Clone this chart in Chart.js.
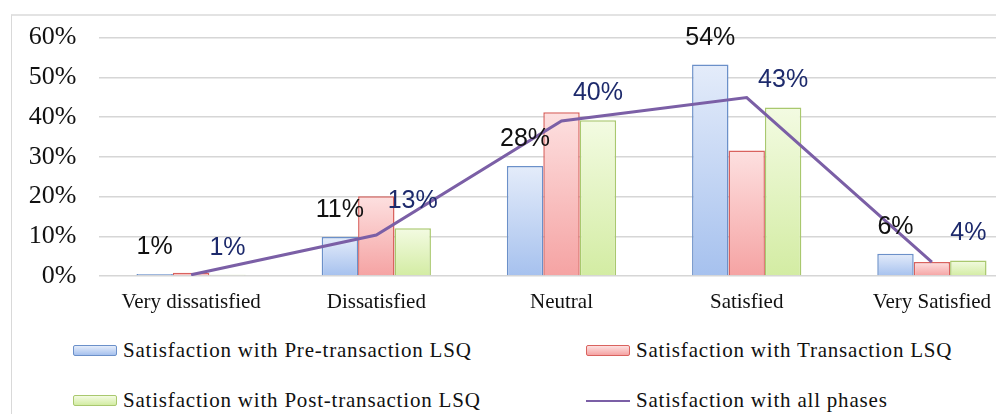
<!DOCTYPE html>
<html>
<head>
<meta charset="utf-8">
<script src="https://cdn.jsdelivr.net/npm/chart.js@4/dist/chart.umd.min.js"></script>
<style>
    html, body { margin: 0; padding: 0; background: #fff; overflow: hidden; width: 996px; height: 414px; }
    #wrap { position: relative; width: 1030px; height: 414px; }
    #frame { position: absolute; left: 11px; top: 14px; width: 1100px; height: 500px;
             border-left: 1px solid #d9d9d9; border-top: 2px solid #e3e3e3; }
    #box { position: absolute; left: 0; top: 0; width: 1030px; height: 316px; }
    .lg { position: absolute; font-family: "Liberation Serif", "Times New Roman", serif;
          font-size: 21px; letter-spacing: 0.8px; color: #111; white-space: nowrap; line-height: 24px; }
    .sw { position: absolute; width: 42px; height: 9px; border-radius: 2px; }
    .ln { position: absolute; width: 44px; height: 2px; }
</style>
</head>
<body>
<div id="wrap">
    <div id="frame"></div>
    <div id="box"><canvas id="satChart"></canvas></div>
    <div id="legend"></div>
</div>
<script>
const categories = ["Very dissatisfied", "Dissatisfied", "Neutral", "Satisfied", "Very Satisfied"];
const seriesNames = [
    "Satisfaction with Pre-transaction LSQ",
    "Satisfaction with Transaction LSQ",
    "Satisfaction with Post-transaction LSQ",
    "Satisfaction with all phases"
];
const preValues = [0.5, 9.8, 27.7, 53.2, 5.6];
const transValues = [0.8, 20.1, 41.2, 31.6, 3.5];
const postValues = [0.3, 12.0, 39.2, 42.4, 3.9];
const allValues = [0.3, 10.3, 39.0, 44.9, 3.5];
const preLabels = ["1%", "11%", "28%", "54%", "6%"];
const postLabels = ["1%", "13%", "40%", "43%", "4%"];
const yTicks = [0, 10, 20, 30, 40, 50, 60];

// bar fill: light at the top, stronger at the base
function barFill(light, dark) {
    return (ctx) => {
        const chart = ctx.chart;
        const area = chart.chartArea;
        if (!area || ctx.raw === undefined) return dark;
        const top = chart.scales.y.getPixelForValue(ctx.raw);
        const g = chart.ctx.createLinearGradient(0, top, 0, area.bottom);
        g.addColorStop(0, light);
        g.addColorStop(1, dark);
        return g;
    };
}

const colors = [
    { border: "#6b90c9", light: "#e4ecfa", dark: "#a6c1ee" },
    { border: "#d9625e", light: "#fde0e0", dark: "#f5a3a3" },
    { border: "#a9c86e", light: "#f3fbe2", dark: "#d3eca3" }
];
const lineColor = "#7b5fa6";

const barLabels = {
    id: "barLabels",
    afterDatasetsDraw(chart) {
        const ctx = chart.ctx;
        ctx.save();
        ctx.font = "25px 'Liberation Sans', Arial, sans-serif";
        ctx.textAlign = "center";
        ctx.textBaseline = "middle";
        [[0, preLabels, "#111111"], [2, postLabels, "#1d2a6c"]].forEach(([idx, texts, col]) => {
            const meta = chart.getDatasetMeta(idx);
            ctx.fillStyle = col;
            meta.data.forEach((bar, i) => {
                ctx.fillText(texts[i], bar.x, bar.y - 27);
            });
        });
        ctx.restore();
    }
};

const canvas = document.getElementById("satChart");
const chart = new Chart(canvas.getContext("2d"), {
    type: "bar",
    data: {
        labels: categories,
        datasets: [
            { label: seriesNames[0], data: preValues, order: 1,
              backgroundColor: barFill(colors[0].light, colors[0].dark), borderColor: colors[0].border,
              borderWidth: 1.5, barPercentage: 1, categoryPercentage: 0.59 },
            { label: seriesNames[1], data: transValues, order: 1,
              backgroundColor: barFill(colors[1].light, colors[1].dark), borderColor: colors[1].border,
              borderWidth: 1.5, barPercentage: 1, categoryPercentage: 0.59 },
            { label: seriesNames[2], data: postValues, order: 1,
              backgroundColor: barFill(colors[2].light, colors[2].dark), borderColor: colors[2].border,
              borderWidth: 1.5, barPercentage: 1, categoryPercentage: 0.59 },
            { label: seriesNames[3], data: allValues, type: "line", order: 0,
              borderColor: lineColor, borderWidth: 3, pointRadius: 0, tension: 0, fill: false }
        ]
    },
    options: {
        responsive: true,
        maintainAspectRatio: false,
        animation: false,
        layout: { padding: { left: 28.5, right: 5.5, top: 31, bottom: 0 } },
        plugins: {
            legend: { display: false },
            tooltip: { enabled: false }
        },
        scales: {
            x: {
                grid: { display: false, drawTicks: false },
                border: { display: false },
                ticks: {
                    color: "#111",
                    padding: 14,
                    maxRotation: 0,
                    autoSkip: false,
                    font: { family: "'Liberation Serif', 'Times New Roman', serif", size: 21 }
                },
                afterFit: (s) => { s.height = 40; }
            },
            y: {
                min: 0,
                max: 60,
                afterBuildTicks: (s) => { s.ticks = yTicks.map(v => ({ value: v })); },
                grid: { color: "#d6d6d6", lineWidth: 1.5, drawTicks: false },
                border: { display: false },
                ticks: {
                    color: "#111",
                    padding: 22,
                    font: { family: "'Liberation Serif', 'Times New Roman', serif", size: 26 },
                    callback: (v) => v + "%"
                },
                afterFit: (s) => { s.width = 70; }
            }
        }
    },
    plugins: [barLabels]
});

// legend below the plot, two columns
const legendPos = [
    { left: 73, top: 351 }, { left: 586, top: 351 },
    { left: 73, top: 401 }, { left: 586, top: 401 }
];
const legend = document.getElementById("legend");
chart.data.datasets.forEach((ds, i) => {
    const p = legendPos[i];
    let mark;
    if (ds.type === "line") {
        mark = `<div class="ln" style="left:${p.left}px;top:${p.top - 1}px;background:${lineColor}"></div>`;
    } else {
        const c = colors[i];
        mark = `<div class="sw" style="left:${p.left}px;top:${p.top - 6}px;border:1.5px solid ${c.border};` +
               `background:linear-gradient(${c.light}, ${c.dark})"></div>`;
    }
    legend.insertAdjacentHTML("beforeend", mark +
        `<div class="lg" style="left:${p.left + 50}px;top:${p.top - 13}px">${ds.label}</div>`);
});
</script>
</body>
</html>
